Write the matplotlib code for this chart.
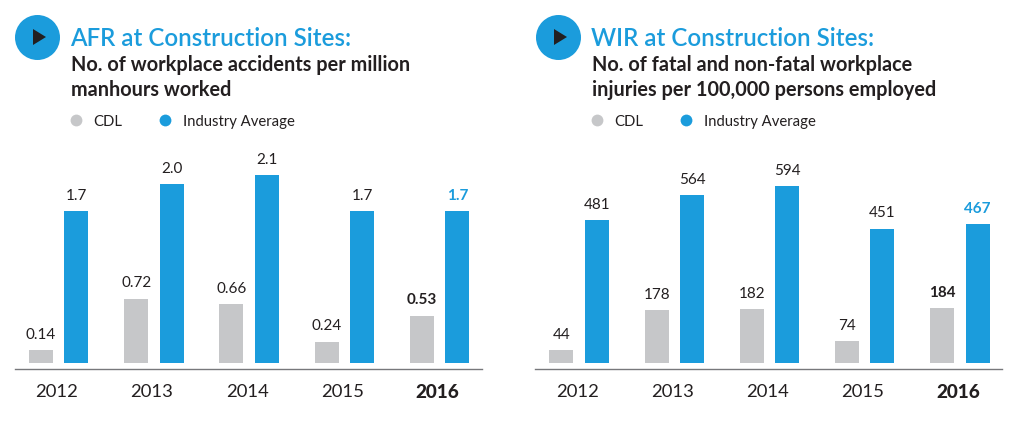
import matplotlib.pyplot as plt
from matplotlib.patches import Circle, Polygon

plt.rcParams["font.family"] = "Lato"

BLUE = "#1b9cdc"
GREY = "#c6c7c9"
DARK = "#231f20"

years = ["2012", "2013", "2014", "2015", "2016"]

afr_cdl = [0.14, 0.72, 0.66, 0.24, 0.53]
afr_avg = [1.7, 2.0, 2.1, 1.7, 1.7]
afr_cdl_labels = ["0.14", "0.72", "0.66", "0.24", "0.53"]
afr_avg_labels = ["1.7", "2.0", "2.1", "1.7", "1.7"]

wir_cdl = [44, 178, 182, 74, 184]
wir_avg = [481, 564, 594, 451, 467]
wir_cdl_labels = ["44", "178", "182", "74", "184"]
wir_avg_labels = ["481", "564", "594", "451", "467"]

W, H = 1024, 423
fig = plt.figure(figsize=(W / 100, H / 100), dpi=100)

# overlay in pixel coords for the header stuff
ov = fig.add_axes([0, 0, 1, 1])
ov.set_xlim(0, W)
ov.set_ylim(H, 0)
ov.axis("off")


def header(x0, title, line1, line2):
    ov.add_patch(Circle((x0 + 37.5, 37.5), 22.5, color=BLUE, lw=0))
    ov.add_patch(Polygon([(x0 + 33, 29), (x0 + 33, 45), (x0 + 46, 37)], color=DARK, lw=0))
    ov.text(x0 + 70, 38, title, color=BLUE, fontsize=17.4, fontweight="semibold", va="center")
    ov.text(x0 + 71, 65, line1, color=DARK, fontsize=14.3, fontweight="bold", va="center")
    ov.text(x0 + 71, 90, line2, color=DARK, fontsize=14.3, fontweight="bold", va="center")
    ov.plot([x0 + 76], [120.5], "o", color=GREY, ms=8.5, mew=0)
    ov.text(x0 + 93.5, 122, "CDL", color=DARK, fontsize=10.7, va="center")
    ov.plot([x0 + 165], [120.5], "o", color=BLUE, ms=8.5, mew=0)
    ov.text(x0 + 183, 122, "Industry Average", color=DARK, fontsize=10.7, va="center")


def panel(left_px, cdl, avg, cdl_labels, avg_labels, scale):
    # axes span 467px wide, spine sits at y=369, bars start at y=363
    ax = fig.add_axes([left_px / W, (H - 369) / H, 467 / W, 229 / H])
    ax.patch.set_alpha(0)
    ax.set_xlim(-0.46, 4.446)
    ax.set_ylim(-6 / scale, 223 / scale)
    x = range(len(years))
    ax.bar([i - 0.186 for i in x], cdl, 0.252, color=GREY)
    ax.bar([i + 0.186 for i in x], avg, 0.252, color=BLUE)
    for i in x:
        last = i == len(years) - 1
        ax.annotate(cdl_labels[i], (i - 0.186, cdl[i]), xytext=(0, 8), textcoords="offset points",
                    ha="center", fontsize=11, color=DARK, fontweight="bold" if last else "normal")
        ax.annotate(avg_labels[i], (i + 0.186, avg[i]), xytext=(0, 8), textcoords="offset points",
                    ha="center", fontsize=11, color=BLUE if last else DARK,
                    fontweight="bold" if last else "normal")
    for s in ["top", "left", "right"]:
        ax.spines[s].set_visible(False)
    ax.spines["bottom"].set_color("#77787b")
    ax.spines["bottom"].set_linewidth(1)
    ax.set_yticks([])
    ax.set_xticks([i - 0.02 for i in x])
    ax.set_xticklabels(years, fontsize=13.3, color=DARK)
    ax.get_xticklabels()[-1].set_fontweight("black")
    ax.get_xticklabels()[-1].set_fontsize(13.7)
    ax.tick_params(axis="x", length=0, pad=11)


header(0, "AFR at Construction Sites:", "No. of workplace accidents per million", "manhours worked")
header(521, "WIR at Construction Sites:", "No. of fatal and non-fatal workplace", "injuries per 100,000 persons employed")

panel(15, afr_cdl, afr_avg, afr_cdl_labels, afr_avg_labels, 89.5)
panel(535.4, wir_cdl, wir_avg, wir_cdl_labels, wir_avg_labels, 0.298)

fig.savefig("out.png", dpi=100)
